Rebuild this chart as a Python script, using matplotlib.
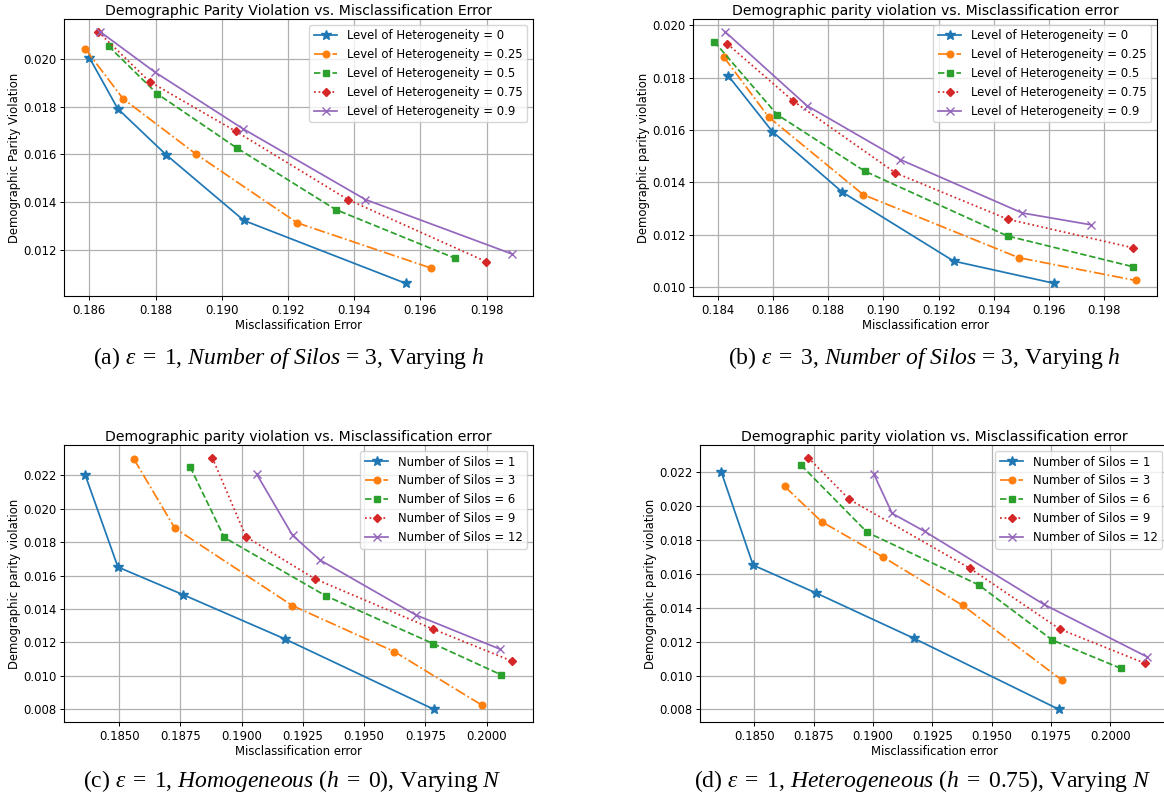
import matplotlib
matplotlib.use("Agg")
import matplotlib.pyplot as plt

# ---- data ----
# (a) eps = 1, 3 silos, varying heterogeneity
a_labels = ["0", "0.25", "0.5", "0.75", "0.9"]
a_x = [
    [0.18600, 0.18686, 0.18832, 0.19067, 0.19556],
    [0.18588, 0.18702, 0.18923, 0.19228, 0.19633],
    [0.18658, 0.18805, 0.19045, 0.19344, 0.19706],
    [0.18627, 0.18782, 0.19043, 0.19381, 0.19799],
    [0.18632, 0.18797, 0.19063, 0.19434, 0.19876],
]
a_y = [
    [0.02007, 0.01792, 0.01599, 0.01323, 0.01059],
    [0.02043, 0.01834, 0.01601, 0.01313, 0.01123],
    [0.02055, 0.01855, 0.01628, 0.01369, 0.01164],
    [0.02115, 0.01906, 0.01697, 0.01411, 0.01150],
    [0.02116, 0.01947, 0.01709, 0.01411, 0.01183],
]

# (b) eps = 3, 3 silos, varying heterogeneity
b_labels = ["0", "0.25", "0.5", "0.75", "0.9"]
b_x = [
    [0.18439, 0.18598, 0.18852, 0.19255, 0.19620],
    [0.18422, 0.18584, 0.18927, 0.19491, 0.19915],
    [0.18387, 0.18615, 0.18932, 0.19450, 0.19903],
    [0.18435, 0.18673, 0.19044, 0.19451, 0.19904],
    [0.18426, 0.18723, 0.19061, 0.19503, 0.19751],
]
b_y = [
    [0.01806, 0.01594, 0.01362, 0.01099, 0.01014],
    [0.01879, 0.01650, 0.01353, 0.01112, 0.01025],
    [0.01938, 0.01659, 0.01443, 0.01195, 0.01078],
    [0.01929, 0.01711, 0.01436, 0.01259, 0.01150],
    [0.01976, 0.01693, 0.01487, 0.01283, 0.01238],
]

# (c) eps = 1, homogeneous, varying number of silos
c_labels = ["1", "3", "6", "9", "12"]
c_x = [
    [0.18362, 0.18495, 0.18762, 0.19176, 0.19785],
    [0.18560, 0.18727, 0.19206, 0.19623, 0.19980],
    [0.18790, 0.18929, 0.19343, 0.19781, 0.20058],
    [0.18880, 0.19018, 0.19298, 0.19779, 0.20102],
    [0.19061, 0.19208, 0.19320, 0.19710, 0.20056],
]
c_y = [
    [0.02200, 0.01651, 0.01485, 0.01221, 0.00799],
    [0.02298, 0.01884, 0.01421, 0.01145, 0.00825],
    [0.02250, 0.01828, 0.01479, 0.01193, 0.01007],
    [0.02306, 0.01832, 0.01581, 0.01281, 0.01089],
    [0.02208, 0.01840, 0.01693, 0.01365, 0.01159],
]

# (d) eps = 1, heterogeneous (h = 0.75), varying number of silos
d_labels = ["1", "3", "6", "9", "12"]
d_x = [
    [0.18361, 0.18495, 0.18761, 0.19173, 0.19784],
    [0.18628, 0.18784, 0.19042, 0.19379, 0.19796],
    [0.18697, 0.18976, 0.19445, 0.19756, 0.20045],
    [0.18727, 0.18900, 0.19409, 0.19787, 0.20148],
    [0.19003, 0.19081, 0.19218, 0.19721, 0.20154],
]
d_y = [
    [0.02200, 0.01651, 0.01486, 0.01219, 0.00800],
    [0.02115, 0.01907, 0.01699, 0.01413, 0.00973],
    [0.02241, 0.01844, 0.01535, 0.01209, 0.01042],
    [0.02285, 0.02039, 0.01632, 0.01274, 0.01071],
    [0.02190, 0.01956, 0.01850, 0.01419, 0.01111],
]

STYLES = [
    dict(marker="*", linestyle="-", color="tab:blue", markersize=7),
    dict(marker="o", linestyle="-.", color="tab:orange", markersize=4.8),
    dict(marker="s", linestyle="--", color="tab:green", markersize=4.8),
    dict(marker="D", linestyle=":", color="tab:red", markersize=4.3),
    dict(marker="x", linestyle="-", color="tab:purple", markersize=6),
]

FS = 8.4
plt.rcParams["mathtext.fontset"] = "custom"
plt.rcParams["mathtext.rm"] = "Liberation Serif"
plt.rcParams["mathtext.it"] = "Liberation Serif:italic"


def panel(ax, xs, ys, labels, prefix, title, xlabel, ylabel):
    for x, y, lab, st in zip(xs, ys, labels, STYLES):
        ax.plot(x, y, label=f"{prefix} = {lab}", linewidth=1.25, **st)
    ax.set_title(title, fontsize=10.1, pad=3)
    ax.set_xlabel(xlabel, fontsize=FS, labelpad=1.5)
    ax.set_ylabel(ylabel, fontsize=FS, labelpad=1.5)
    ax.tick_params(labelsize=FS, length=3, width=0.7, pad=2.5)
    ax.grid(True, linewidth=0.9)
    for s in ax.spines.values():
        s.set_linewidth(0.8)
    ax.legend(loc="upper right", fontsize=FS)


fig = plt.figure(figsize=(11.64, 8.01), dpi=100)

ax_a = fig.add_axes([0.0550, 0.6305, 0.4029, 0.3458])
ax_b = fig.add_axes([0.5954, 0.6305, 0.3986, 0.3458])
ax_c = fig.add_axes([0.0550, 0.0986, 0.4029, 0.3458])
ax_d = fig.add_axes([0.6014, 0.0986, 0.4021, 0.3458])

panel(ax_a, a_x, a_y, a_labels, "Level of Heterogeneity",
      "Demographic Parity Violation vs. Misclassification Error",
      "Misclassification Error", "Demographic Parity Violation")
panel(ax_b, b_x, b_y, b_labels, "Level of Heterogeneity",
      "Demographic parity violation vs. Misclassification error",
      "Misclassification error", "Demographic parity violation")
panel(ax_c, c_x, c_y, c_labels, "Number of Silos",
      "Demographic parity violation vs. Misclassification error",
      "Misclassification error", "Demographic parity violation")
panel(ax_d, d_x, d_y, d_labels, "Number of Silos",
      "Demographic parity violation vs. Misclassification error",
      "Misclassification error", "Demographic parity violation")

cap = dict(fontsize=17, family="Liberation Serif", ha="center", va="center")
fig.text(289 / 1164, 1 - 358 / 801,
         r"(a) $\varepsilon\;=\;1$, $\mathit{Number\ of\ Silos}$ = 3, Varying $h$", **cap)
fig.text(924 / 1164, 1 - 358 / 801,
         r"(b) $\varepsilon\;=\;3$, $\mathit{Number\ of\ Silos}$ = 3, Varying $h$", **cap)
fig.text(292 / 1164, 1 - 781 / 801,
         r"(c) $\varepsilon\;=\;1$, $\mathit{Homogeneous}$ ($h\;=\;0$), Varying $N$", **cap)
fig.text(923 / 1164, 1 - 781 / 801,
         r"(d) $\varepsilon\;=\;1$, $\mathit{Heterogeneous}$ ($h\;=\;0.75$), Varying $N$", **cap)

fig.savefig("out.png", dpi=100)
